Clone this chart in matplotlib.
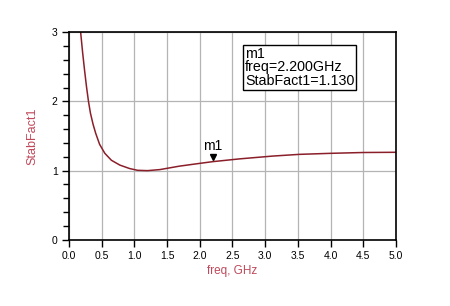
import matplotlib.pyplot as plt
from matplotlib.ticker import MultipleLocator, FormatStrFormatter

plt.rcParams['font.family'] = ['Liberation Sans', 'DejaVu Sans']

# StabFact1 vs frequency
freq = [0.15, 0.18, 0.21, 0.24, 0.27, 0.30, 0.33, 0.37, 0.41, 0.47, 0.55,
        0.65, 0.78, 0.93, 1.05, 1.2, 1.39, 1.69, 2.0, 2.2, 2.61, 3.11, 3.52,
        4.0, 4.5, 5.0]
stab = [3.35, 3.0, 2.71, 2.45, 2.21, 2.0, 1.83, 1.67, 1.54, 1.38, 1.25,
        1.15, 1.08, 1.03, 1.005, 1.0, 1.015, 1.065, 1.105, 1.13, 1.17, 1.21, 1.235,
        1.25, 1.262, 1.265]

m_freq = 2.2
m_val = 1.130

fig = plt.figure(figsize=(4.5, 3.06), dpi=100)
ax = fig.add_axes([0.153, 0.216, 0.727, 0.679])

ax.plot(freq, stab, color='#8a1f2a', linewidth=1.1)

ax.set_xlim(0, 5)
ax.set_ylim(0, 3)
ax.xaxis.set_major_locator(MultipleLocator(0.5))
ax.xaxis.set_major_formatter(FormatStrFormatter('%.1f'))
ax.yaxis.set_major_locator(MultipleLocator(1))
ax.yaxis.set_minor_locator(MultipleLocator(0.2))
ax.grid(True, color='#b4b4b4', linewidth=0.9)
ax.tick_params(which='both', direction='out', length=5, width=1,
               labelsize=7.5, colors='black', pad=3)
ax.tick_params(which='minor', length=4)
for s in ax.spines.values():
    s.set_color('black')
    s.set_linewidth(1.2)

ax.set_xlabel('freq, GHz', color='#c0485a', fontsize=8.5, labelpad=3)
ax.set_ylabel('StabFact1', color='#c0485a', fontsize=9, labelpad=10)

# marker m1
ax.plot([m_freq], [m_val + 0.06], marker='v', color='black', markersize=5)
ax.text(m_freq, m_val + 0.13, 'm1', ha='center', va='bottom', fontsize=10)
ax.text(2.69, 2.49, f"m1\nfreq={m_freq:.3f}GHz\nStabFact1={m_val:.3f}",
        ha='left', va='center', fontsize=10.3, linespacing=0.95,
        bbox=dict(boxstyle='square,pad=0.12', fc='white', ec='black', lw=1))

fig.savefig('out.png', dpi=100)
